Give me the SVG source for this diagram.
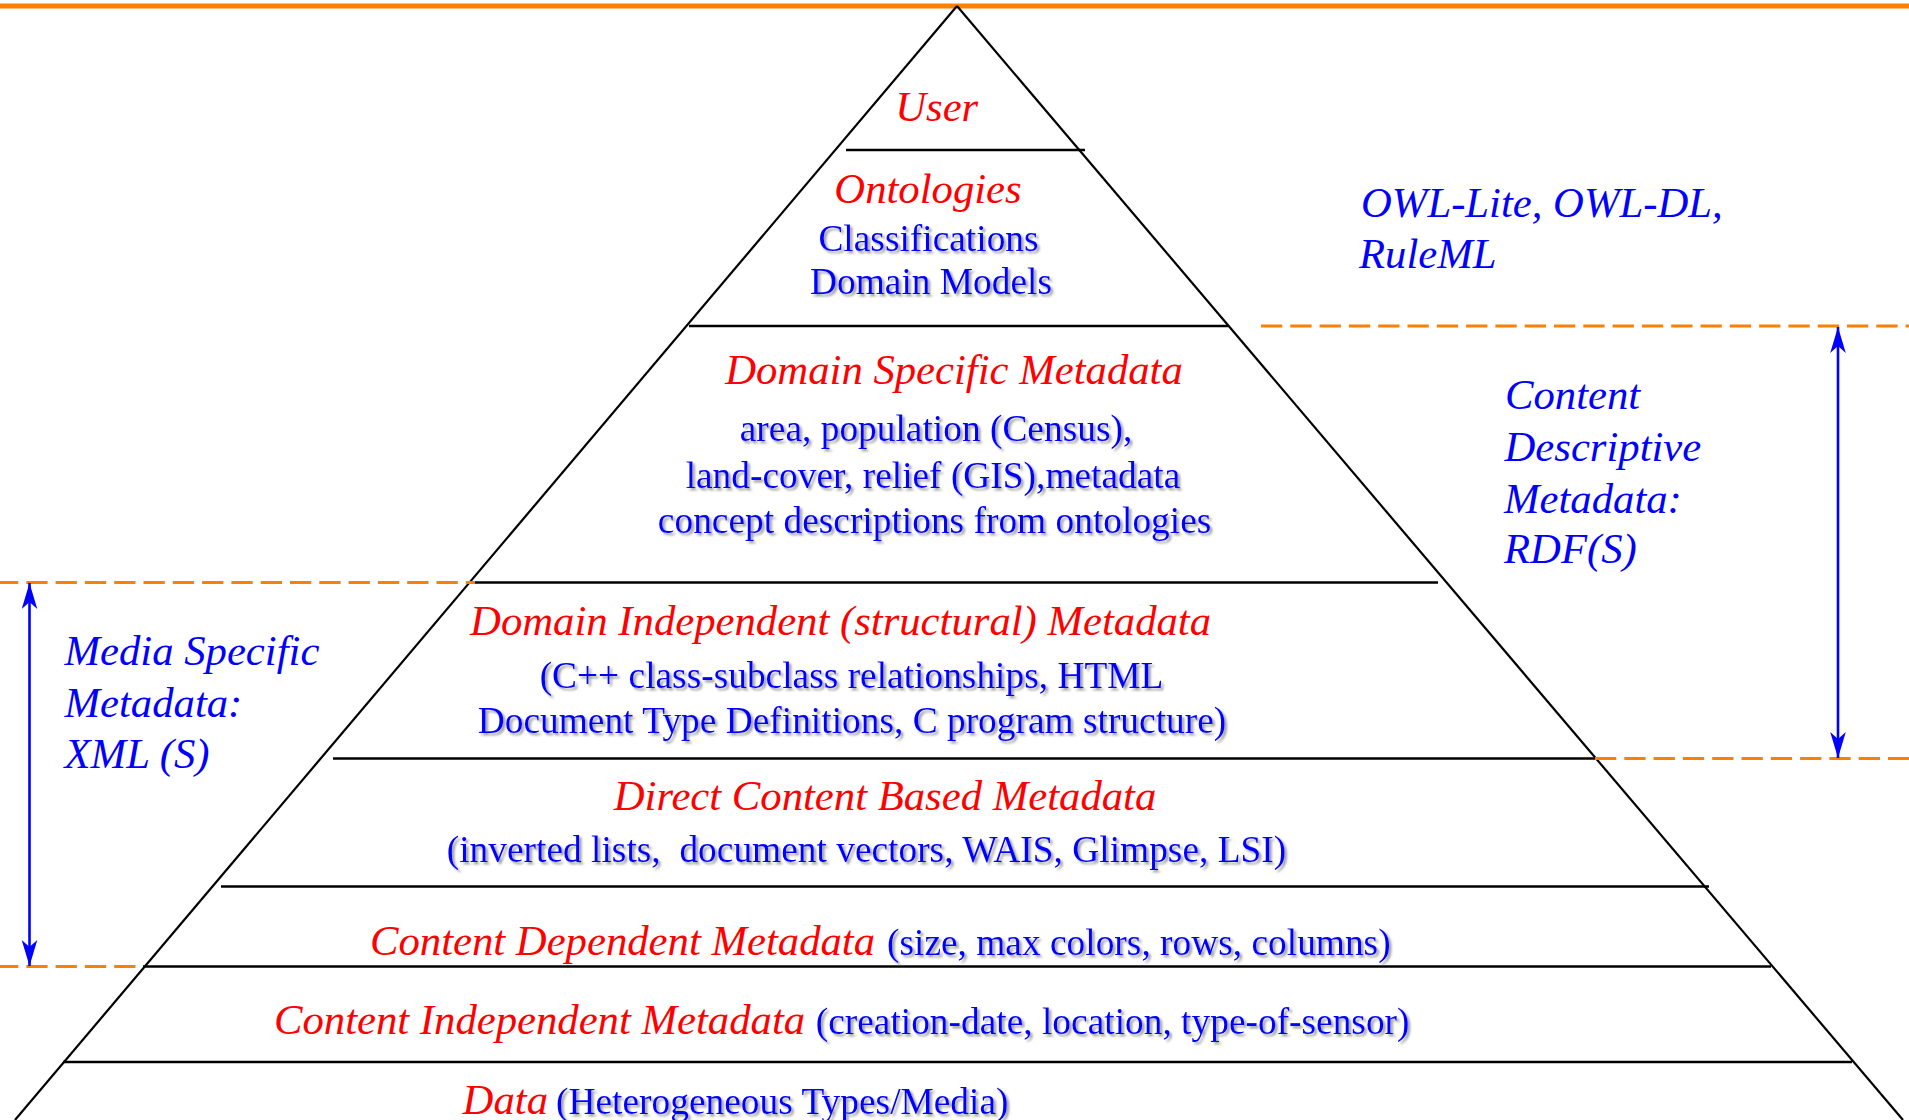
<svg xmlns="http://www.w3.org/2000/svg" width="1909" height="1120" viewBox="0 0 1909 1120">
  <style>
    .title { font-family: "Liberation Serif", "Times New Roman", serif; font-style: italic; font-size: 42.7px; fill: #ff0000; }
    .note { font-family: "Liberation Serif", "Times New Roman", serif; font-style: italic; font-size: 42.7px; fill: #0000ff; }
    .desc { font-family: "Liberation Serif", "Times New Roman", serif; font-size: 37.4px; fill: #0000ff; filter: url(#shadow); }
    .mid { text-anchor: middle; }
    .edge { stroke: #000; stroke-width: 2.2; fill: none; }
    .tier { stroke: #000; stroke-width: 2.6; }
    .band { stroke: #ff8000; stroke-width: 3; stroke-dasharray: 21.3 8; }
    .span { stroke: #0000ff; stroke-width: 2.6; fill: none; marker-start: url(#tip); marker-end: url(#tip); }
  </style>
  <defs>
    <filter id="shadow" x="-5%" y="-20%" width="110%" height="150%">
      <feDropShadow dx="2.4" dy="2.4" stdDeviation="0.9" flood-color="#7a7a7a" flood-opacity="0.75"/>
    </filter>
    <marker id="tip" viewBox="0 -8 26 16" refX="26" refY="0" markerWidth="26" markerHeight="16" markerUnits="userSpaceOnUse" orient="auto-start-reverse">
      <path d="M0,-7.8 L26,0 L0,7.8 L7,0 Z" fill="#0000ff"/>
    </marker>
  </defs>

  <rect width="1909" height="1120" fill="#ffffff"/>

  <!-- top rule -->
  <line x1="0" y1="6" x2="1909" y2="6" stroke="#ff8000" stroke-width="4.8"/>

  <!-- pyramid outline -->
  <g id="pyramid">
    <line class="edge" x1="957" y1="6" x2="15" y2="1120"/>
    <line class="edge" x1="957" y1="6" x2="1903" y2="1120"/>
    <line class="tier" x1="846" y1="150" x2="1085" y2="150"/>
    <line class="tier" x1="689" y1="326" x2="1228" y2="326"/>
    <line class="tier" x1="475" y1="582.5" x2="1438" y2="582.5"/>
    <line class="tier" x1="333" y1="758.5" x2="1595" y2="758.5"/>
    <line class="tier" x1="221" y1="886.5" x2="1709" y2="886.5"/>
    <line class="tier" x1="143" y1="966.5" x2="1771" y2="966.5"/>
    <line class="tier" x1="63" y1="1062" x2="1852" y2="1062"/>
  </g>

  <!-- dashed range markers -->
  <g id="bands">
    <line class="band" x1="1261" y1="326" x2="1909" y2="326"/>
    <line class="band" x1="1595" y1="758.5" x2="1909" y2="758.5"/>
    <line class="band" x1="0" y1="582.5" x2="475" y2="582.5" stroke-dashoffset="3"/>
    <line class="band" x1="0" y1="966.5" x2="143" y2="966.5" stroke-dashoffset="3"/>
  </g>

  <!-- range arrows -->
  <g id="connectors">
    <line class="span" x1="29.5" y1="583" x2="29.5" y2="966"/>
    <line class="span" x1="1838" y1="327" x2="1838" y2="758"/>
  </g>

  <g id="user">
    <text class="title mid" x="936.7" y="121">User</text>
  </g>

  <g id="ontologies">
    <text class="title mid" x="928" y="202.7">Ontologies</text>
    <text class="desc mid" x="928.5" y="250.5">Classifications</text>
    <text class="desc mid" x="931" y="294">Domain Models</text>
  </g>

  <g id="domain-specific">
    <text class="title mid" x="954" y="383.5">Domain Specific Metadata</text>
    <text class="desc mid" x="936" y="441">area, population (Census),</text>
    <text class="desc mid" x="933" y="487.5">land-cover, relief (GIS),metadata</text>
    <text class="desc mid" x="934.6" y="532.5">concept descriptions from ontologies</text>
  </g>

  <g id="domain-independent">
    <text class="title mid" x="840.6" y="635">Domain Independent (structural) Metadata</text>
    <text class="desc mid" x="851.5" y="688">(C++ class-subclass relationships, HTML</text>
    <text class="desc mid" x="852" y="732.5">Document Type Definitions, C program structure)</text>
  </g>

  <g id="direct-content">
    <text class="title mid" x="885" y="810">Direct Content Based Metadata</text>
    <text class="desc mid" x="866.5" y="861.5" xml:space="preserve">(inverted lists,  document vectors, WAIS, Glimpse, LSI)</text>
  </g>

  <g id="content-dependent">
    <text class="title" x="370" y="954.5">Content Dependent Metadata</text>
    <text class="desc" x="887" y="954.5">(size, max colors, rows, columns)</text>
  </g>

  <g id="content-independent">
    <text class="title" x="274" y="1034">Content Independent Metadata</text>
    <text class="desc" x="815.7" y="1034">(creation-date, location, type-of-sensor)</text>
  </g>

  <g id="data">
    <text class="title" x="462.6" y="1114">Data</text>
    <text class="desc" x="556" y="1114">(Heterogeneous Types/Media)</text>
  </g>

  <g id="owl-note">
    <text class="note" x="1361" y="216.7">OWL-Lite, OWL-DL,</text>
    <text class="note" x="1359" y="268.3">RuleML</text>
  </g>

  <g id="content-descriptive">
    <text class="note" x="1505" y="409">Content</text>
    <text class="note" x="1504.5" y="461">Descriptive</text>
    <text class="note" x="1504" y="512.5">Metadata:</text>
    <text class="note" x="1504" y="562.5">RDF(S)</text>
  </g>

  <g id="media-specific">
    <text class="note" x="64.5" y="665">Media Specific</text>
    <text class="note" x="64.5" y="717">Metadata:</text>
    <text class="note" x="64.5" y="767.5">XML (S)</text>
  </g>
</svg>
